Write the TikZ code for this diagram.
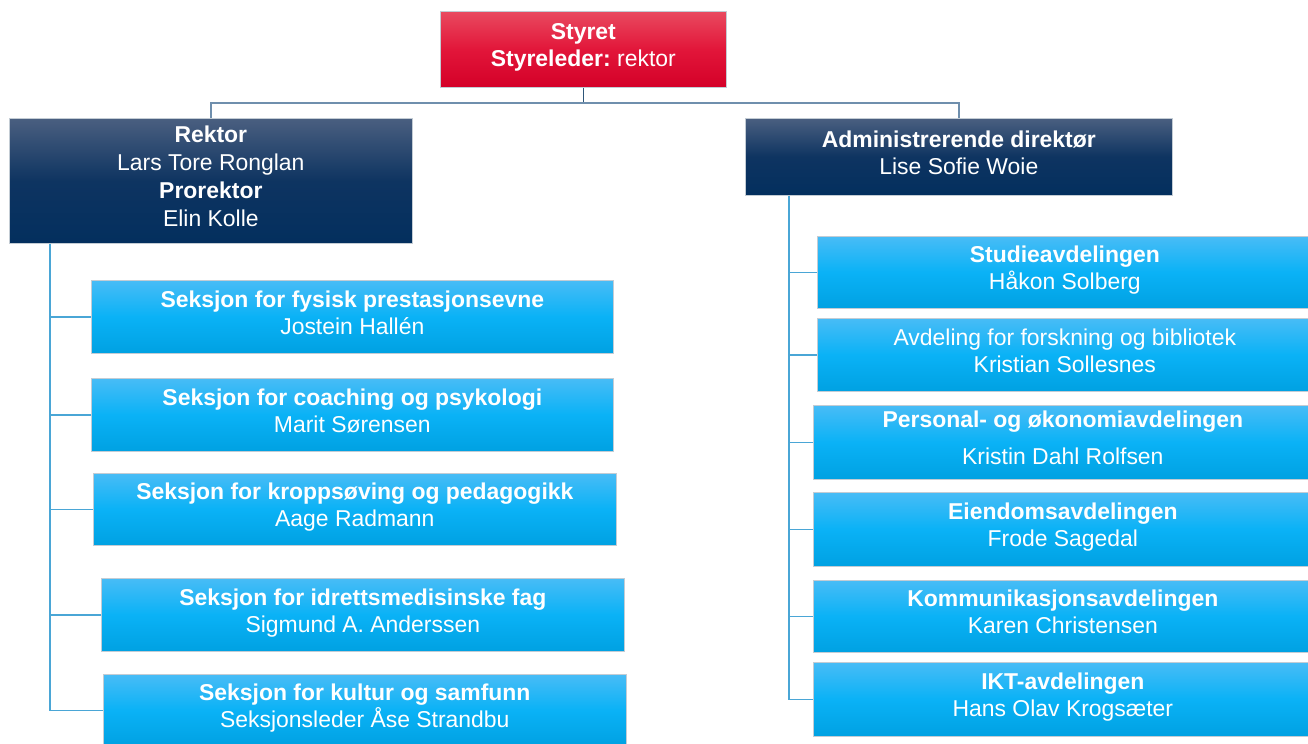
\documentclass[tikz,border=0pt]{standalone}
\usepackage{fontspec}
\setmainfont{Liberation Sans}
\definecolor{redtop}{HTML}{E94A60}
\definecolor{redmid}{HTML}{E2163A}
\definecolor{redbot}{HTML}{D40028}
\definecolor{navytop}{HTML}{4A5F80}
\definecolor{navymid}{HTML}{0E3461}
\definecolor{navybot}{HTML}{032F5E}
\definecolor{bluetop}{HTML}{48BCF6}
\definecolor{bluemid}{HTML}{0AB2F6}
\definecolor{bluebot}{HTML}{00A1E2}
\definecolor{edgegray}{HTML}{C3CCD4}
\definecolor{topline}{HTML}{6F8FAD}
\definecolor{stemline}{HTML}{2E5679}
\definecolor{childline}{HTML}{4AA6D6}
\begin{document}
\begin{tikzpicture}[x=0.75pt,y=-0.75pt,
  basebox/.style={draw=edgegray, line width=0.5pt, anchor=north west, inner sep=2pt,
    text=white, align=center, text depth=6.5pt, font=\fontsize{17.2}{20.5}\selectfont},
  redbox/.style={basebox, top color=redtop, bottom color=redbot, middle color=redmid},
  navybox/.style={basebox, top color=navytop, bottom color=navybot, middle color=navymid},
  bluebox/.style={basebox, top color=bluetop, bottom color=bluebot, middle color=bluemid},
  topconn/.style={draw=topline, line width=1.1pt},
  stemconn/.style={draw=stemline, line width=1.1pt},
  childconn/.style={draw=childline, line width=1.1pt},
]
\useasboundingbox (0,0) rectangle (1308,743);

% top
\node[redbox, minimum width=286*0.75pt, minimum height=76*0.75pt] (styret) at (440,11)
  {\textbf{Styret}\\\textbf{Styreleder:}\hspace{-1.5pt} rektor};

% level 2
\node[navybox, minimum width=403*0.75pt, minimum height=125*0.75pt, text depth=7pt,
  font=\fontsize{17.2}{21}\selectfont] (rektor) at (9,118)
  {\textbf{Rektor}\\Lars Tore Ronglan\\\textbf{Prorektor}\\Elin Kolle};
\node[navybox, minimum width=427*0.75pt, minimum height=77*0.75pt] (admin) at (745,118)
  {\textbf{Administrerende direktør}\\Lise Sofie Woie};

% left children
\node[bluebox, minimum width=522*0.75pt, minimum height=73*0.75pt] (l1) at (91,280)
  {\textbf{Seksjon for fysisk prestasjonsevne}\\Jostein Hallén};
\node[bluebox, minimum width=522*0.75pt, minimum height=73*0.75pt] (l2) at (91,378)
  {\textbf{Seksjon for coaching og psykologi}\\Marit Sørensen};
\node[bluebox, minimum width=523*0.75pt, minimum height=72*0.75pt] (l3) at (93,473)
  {\textbf{Seksjon for kroppsøving og pedagogikk}\\Aage Radmann};
\node[bluebox, minimum width=523*0.75pt, minimum height=73*0.75pt] (l4) at (101,578)
  {\textbf{Seksjon for idrettsmedisinske fag}\\Sigmund A. Anderssen};
\node[bluebox, minimum width=523*0.75pt, minimum height=72*0.75pt] (l5) at (103,674)
  {\textbf{Seksjon for kultur og samfunn}\\Seksjonsleder Åse Strandbu};

% right children
\node[bluebox, minimum width=495*0.75pt, minimum height=72*0.75pt] (r1) at (817,236)
  {\textbf{Studieavdelingen}\\Håkon Solberg};
\node[bluebox, minimum width=495*0.75pt, minimum height=73*0.75pt] (r2) at (817,318)
  {Avdeling for forskning og bibliotek\\Kristian Sollesnes};
\node[bluebox, minimum width=499*0.75pt, minimum height=74*0.75pt,
  font=\fontsize{17.2}{28}\selectfont] (r3) at (813,405)
  {\textbf{Personal- og økonomiavdelingen}\\Kristin Dahl Rolfsen};
\node[bluebox, minimum width=499*0.75pt, minimum height=74*0.75pt] (r4) at (813,492)
  {\textbf{Eiendomsavdelingen}\\Frode Sagedal};
\node[bluebox, minimum width=499*0.75pt, minimum height=72*0.75pt] (r5) at (813,580)
  {\textbf{Kommunikasjonsavdelingen}\\Karen Christensen};
\node[bluebox, minimum width=499*0.75pt, minimum height=74*0.75pt] (r6) at (813,662)
  {\textbf{IKT-avdelingen}\\Hans Olav Krogsæter};

% connectors
\coordinate (hb) at (583,103);
\coordinate (lx) at (50,0);
\coordinate (rx) at (789,0);
\draw[stemconn] (styret.south) -- (styret.south |- hb);
\draw[topconn] (rektor.north) -- (rektor.north |- hb) -- (admin.north |- hb) -- (admin.north);

\draw[childconn] (rektor.south -| lx) |- (l5.west);
\foreach \n in {l1,l2,l3,l4}
  \draw[childconn] (\n.west) -- (\n.west -| lx);

\draw[childconn] (admin.south -| rx) |- (r6.west);
\foreach \n in {r1,r2,r3,r4,r5}
  \draw[childconn] (\n.west) -- (\n.west -| rx);
\end{tikzpicture}
\end{document}
